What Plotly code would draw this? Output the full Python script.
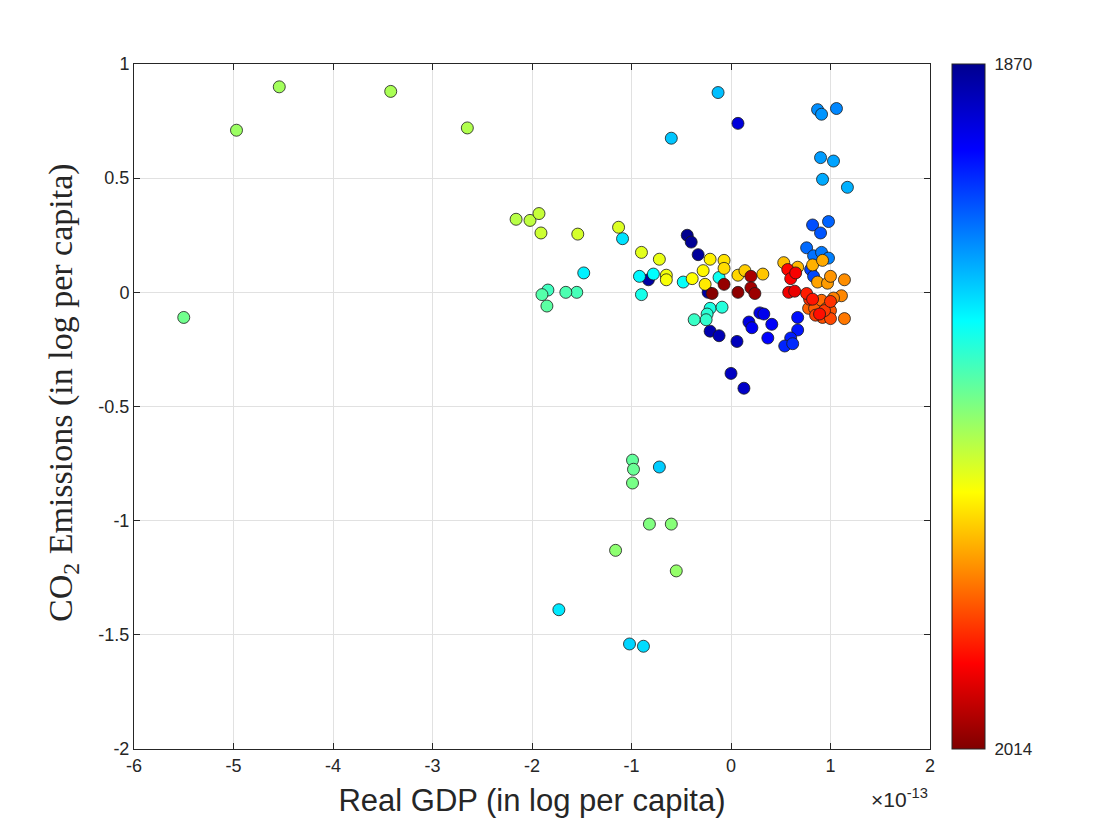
import plotly.graph_objects as go

# values; GDP in units of 1e-13
year = [
    1870, 1871, 1872, 1873, 1874, 1875, 1876, 1877, 1878, 1879,
    1882, 1884, 1885, 1883, 1886, 1887, 1888, 1890, 1891, 1892, 1893, 1894,
    1897, 1898, 1899, 1900, 1902, 1903, 1904, 1905, 1906,
    1908, 1909, 1907, 1910, 1911, 1912, 1913, 1915, 1916,
    1917, 1918, 1919, 1921, 1920, 1922, 1923, 1924, 1925, 1926,
    1927, 1928, 1929, 1930, 1931, 1932, 1933, 1934, 1935, 1936, 1937,
    1940, 1938, 1939, 1941, 1942, 1943, 1944, 1945, 1946, 1947, 1948, 1949,
    1950, 1951, 1952, 1953, 1954, 1955, 1956, 1957,
    1958, 1959, 1960, 1961, 1962, 1963, 1964, 1965,
    1966, 1967, 1968, 1969, 1970, 1971, 1972,
    1973, 1974, 1975, 1976, 1977, 1978, 1979,
    1982, 1983, 1981, 1980, 1984, 1985, 1986, 1987, 1988, 1989, 1990,
    1992, 1993, 1994, 1995, 1996, 1997, 1998, 1999,
    2008, 2009, 2010, 2011, 2012, 2013,
]
gdp = [
    -0.44, -0.40, -0.33, -0.83, -0.23, -0.21, -0.12, 0.06, 0.00, 0.13,
    0.07, 0.29, 0.33, 0.18, 0.21, 0.41, 0.37, 0.67, 0.67, 0.60, 0.54, 0.62,
    0.80, 0.83, 0.82, 0.90, 0.98, 0.76, 0.83, 0.91, 0.98,
    0.87, 0.91, 1.06, 0.90, 1.03, 0.92, 1.17, -0.13, -0.60,
    -0.72, -1.02, -0.88, -1.73, -1.09, -1.48, -0.92, -0.78, -0.48, -0.12,
    -0.90, -0.21, -0.09, -0.24, -0.25, -0.37, -1.84, -1.55, -1.66, -1.90, -1.85,
    -5.50, -0.99, -0.98, -0.99, -0.82, -0.60, -1.16, -0.55, -4.97, -4.54, -3.42, -2.65,
    -2.16, -2.02, -1.93, -1.91, -1.54, -1.13, -0.90, -0.72,
    -0.65, -0.65, -0.39, -0.28, -0.21, -0.26, -0.07, -0.07,
    0.07, 0.14, 0.32, 0.53, 0.67, 0.82, 0.92,
    0.87, 0.97, 1.00, 1.14, 1.11, 1.03, 1.14,
    0.78, 0.84, 0.91, 0.96, 1.00, 0.92, 1.00, 0.85, 0.94, 1.00, 0.79,
    0.76, 0.82, 0.89, 0.57, 0.60, 0.65, 0.58, 0.64,
    0.20, 0.20, 0.24, -0.07, 0.07, -0.19,
]
co2 = [
    0.25, 0.22, 0.165, 0.055, 0.00, -0.17, -0.19, -0.215, -0.355, -0.42,
    0.74, -0.09, -0.095, -0.13, -0.155, -0.14, -0.20, -0.11, -0.165, -0.20, -0.235, -0.225,
    0.10, 0.07, 0.295, 0.26, 0.31, 0.195, 0.16, 0.175, 0.15,
    0.80, 0.78, 0.805, 0.59, 0.575, 0.495, 0.46, 0.875, 0.675,
    -0.765, -1.54, -1.55, -1.39, 0.235, 0.085, 0.07, 0.08, 0.045, 0.065,
    -0.01, -0.07, -0.065, -0.095, -0.12, -0.12, 0.01, 0.00, 0.00, -0.01, -0.06,
    -0.11, -0.735, -0.775, -0.835, -1.015, -1.015, -1.13, -1.22, 0.71, 0.90, 0.88, 0.72,
    0.32, 0.315, 0.345, 0.26, 0.255, 0.285, 0.175, 0.145,
    0.075, 0.055, 0.06, 0.095, 0.145, 0.035, 0.14, 0.105,
    0.075, 0.095, 0.08, 0.13, 0.11, 0.12, 0.14,
    0.045, 0.04, 0.07, 0.055, -0.015, -0.025, -0.115,
    -0.07, -0.07, -0.035, -0.07, -0.08, -0.11, -0.115, -0.10, -0.08, -0.04, -0.03,
    -0.005, -0.03, -0.095, 0.10, 0.06, 0.085, 0.00, 0.005,
    0.07, 0.02, -0.005, 0.035, 0.00, -0.005,
]

x_ticks = [-6, -5, -4, -3, -2, -1, 0, 1, 2]
y_ticks = [-2, -1.5, -1, -0.5, 0, 0.5, 1]
y_labels = ['-2', '-1.5', '-1', '-0.5', '0', '0.5', '1']

# MATLAB jet, flipped so that negative year puts 1870 on top of the bar
JET_REV = [
    [0.0, 'rgb(128,0,0)'],
    [0.125, 'rgb(255,0,0)'],
    [0.375, 'rgb(255,255,0)'],
    [0.625, 'rgb(0,255,255)'],
    [0.875, 'rgb(0,0,255)'],
    [1.0, 'rgb(0,0,143)'],
]

AXIS_COLOR = '#262626'
GRID_COLOR = '#e1e1e1'
SANS = 'Liberation Sans, Arial'
TICK_FONT = dict(family=SANS, size=18, color=AXIS_COLOR)

fig = go.Figure()
fig.add_trace(go.Scatter(
    x=gdp,
    y=co2,
    mode='markers',
    marker=dict(
        size=12,
        color=[-y for y in year],
        colorscale=JET_REV,
        cmin=-2014,
        cmax=-1870,
        line=dict(color='#1a1a1a', width=0.8),
        opacity=1,
        colorbar=dict(
            x=1.0276,
            xanchor='left',
            xpad=0,
            ypad=0,
            y=0.5,
            yanchor='middle',
            len=1.0,
            thickness=33,
            outlinecolor=AXIS_COLOR,
            outlinewidth=1,
            tickvals=[-2014, -1870],
            ticktext=['2014', '1870'],
            ticks='outside',
            ticklen=6,
            tickcolor='white',
            tickfont=dict(family=SANS, size=17, color=AXIS_COLOR),
        ),
    ),
    text=[str(y) for y in year],
    hovertemplate='Year %{text}<br>GDP %{x}e-13<br>CO2 %{y}<extra></extra>',
    showlegend=False,
))

# exponent of the x axis, MATLAB style
fig.add_annotation(
    text='×10<sup>-13</sup>',
    xref='paper', yref='paper',
    x=1.0, y=-0.05,
    xanchor='right', yanchor='top',
    showarrow=False,
    font=dict(family=SANS, size=21, color=AXIS_COLOR),
)

# y title as annotation so it can sit slightly above centre like the original
fig.add_annotation(
    text='CO<sub>2</sub> Emissions (in log per capita)',
    xref='paper', yref='paper',
    x=-0.089, y=0.52,
    xanchor='center', yanchor='middle',
    textangle=-90,
    showarrow=False,
    font=dict(family='Liberation Serif, DejaVu Serif, serif', size=34, color=AXIS_COLOR),
)

fig.update_layout(
    width=1120,
    height=840,
    margin=dict(l=126, r=198, t=56, b=99),
    paper_bgcolor='white',
    plot_bgcolor='white',
    font=dict(family=SANS, size=16, color=AXIS_COLOR),
)

fig.update_xaxes(
    range=[-6, 2],
    tickvals=x_ticks,
    ticktext=[str(t) for t in x_ticks],
    tickfont=TICK_FONT,
    showgrid=True, gridcolor=GRID_COLOR, gridwidth=1,
    zeroline=False,
    showline=True, linecolor=AXIS_COLOR, linewidth=1, mirror='ticks',
    ticks='inside', ticklen=6, tickcolor=AXIS_COLOR,
    title=dict(text='Real GDP (in log per capita)',
               font=dict(family=SANS, size=31, color=AXIS_COLOR),
               standoff=14),
)
fig.update_yaxes(
    range=[-2, 1],
    tickvals=y_ticks,
    ticktext=y_labels,
    tickfont=TICK_FONT,
    showgrid=True, gridcolor=GRID_COLOR, gridwidth=1,
    zeroline=False,
    showline=True, linecolor=AXIS_COLOR, linewidth=1, mirror='ticks',
    ticks='inside', ticklen=6, tickcolor=AXIS_COLOR,
)

fig.write_html("out.html")
